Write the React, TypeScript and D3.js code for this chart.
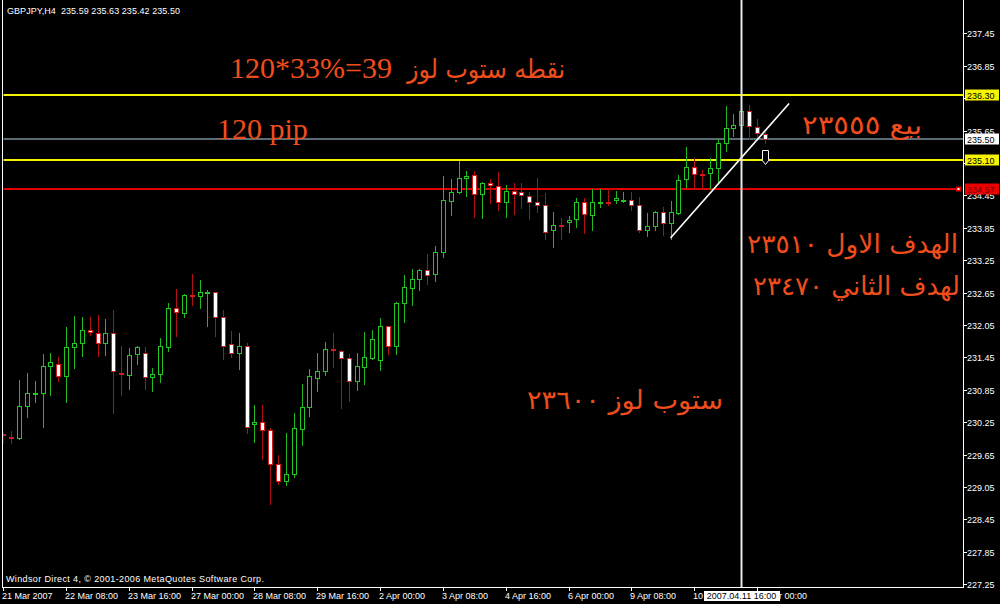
import React from 'react';
import * as d3 from 'd3';

// ---- data (GBPJPY H4) ----
const opens = [230.04,229.97,229.95,230.55,230.77,230.80,231.30,231.33,231.11,231.64,231.71,231.95,231.91,231.72,231.91,231.17,231.13,231.51,231.54,231.08,231.15,231.65,232.37,232.28,232.61,232.58,232.65,232.66,232.19,231.69,231.53,231.66,230.21,230.26,230.10,229.48,229.17,229.29,230.13,230.53,231.07,231.19,231.60,231.57,231.44,231.01,231.28,231.43,231.40,232.03,231.67,232.46,232.74,232.91,233.06,233.00,233.40,234.35,234.52,234.77,234.82,234.48,234.68,234.62,234.33,234.53,234.51,234.44,234.32,234.28,233.80,233.91,233.95,234.01,234.33,234.09,234.31,234.33,234.36,234.35,234.36,234.28,233.80,233.89,234.15,233.94,234.13,234.75,234.97,234.84,234.86,234.96,235.41,235.69,235.75,236.01,235.72,235.59];
const highs = [230.07,230.09,231.03,231.16,231.01,231.52,231.54,231.45,232.01,232.22,232.20,232.20,232.24,232.16,232.33,231.67,231.62,231.66,231.64,231.26,231.81,232.46,232.72,232.63,232.99,232.88,232.70,232.67,232.33,231.94,231.90,231.72,230.56,230.56,230.15,229.64,230.05,230.42,230.96,231.23,231.53,231.74,231.90,231.58,231.51,231.54,231.92,231.96,232.18,232.04,232.48,232.98,233.08,233.09,233.36,233.51,234.81,234.75,235.09,234.90,234.90,234.69,234.75,234.88,234.65,234.67,234.67,234.52,234.77,234.49,234.14,234.03,234.07,234.40,234.40,234.56,234.56,234.56,234.53,234.51,234.51,234.42,234.12,234.16,234.24,234.35,234.83,235.34,235.14,234.92,235.14,235.49,236.10,235.96,236.10,236.12,235.86,235.63];
const lows = [229.87,229.87,229.94,230.35,230.63,230.17,230.76,231.02,230.63,231.26,231.47,231.87,231.47,231.50,230.43,230.75,230.87,231.33,230.87,230.82,231.00,231.56,231.85,232.19,232.42,232.36,232.04,231.85,231.42,231.46,231.24,230.05,229.89,229.57,228.74,229.11,229.08,229.24,229.83,230.37,230.83,231.12,231.27,230.52,230.65,230.85,230.96,231.42,231.22,231.52,231.52,232.11,232.42,232.70,232.81,232.86,233.30,234.09,234.50,234.44,234.05,234.04,234.30,234.18,234.05,234.11,234.22,234.01,234.15,233.65,233.49,233.65,233.78,233.87,233.76,233.80,234.24,234.27,234.31,234.32,234.17,233.78,233.70,233.81,233.72,233.65,234.10,234.61,234.56,234.57,234.58,234.67,235.27,235.54,235.70,235.49,235.47,235.42];
const closes = [230.01,229.96,230.55,230.80,230.80,231.30,231.36,231.11,231.64,231.71,231.95,231.92,231.71,231.91,231.19,231.15,231.49,231.64,231.08,231.14,231.66,232.36,232.30,232.61,232.59,232.66,232.67,232.19,231.67,231.53,231.67,230.17,230.25,230.10,229.48,229.17,229.29,230.14,230.54,231.10,231.19,231.61,231.58,231.44,231.01,231.30,231.45,231.80,232.03,231.67,232.46,232.75,232.91,233.06,232.97,233.41,234.36,234.52,234.77,234.81,234.47,234.68,234.64,234.33,234.53,234.48,234.46,234.33,234.28,233.77,233.91,233.89,233.99,234.33,234.10,234.32,234.33,234.31,234.41,234.36,234.28,233.80,233.89,234.15,233.93,234.14,234.73,234.97,234.85,234.83,234.95,235.41,235.69,235.75,236.01,235.73,235.60,235.50];

const priceTicks = [237.45,236.85,236.25,235.65,235.05,234.45,233.85,233.25,232.65,232.05,231.45,230.85,230.25,229.65,229.05,228.45,227.85,227.25];
const hiddenTicks = [236.25, 235.05];
const timeLabelBars = [0,8,16,24,32,40,48,56,64,72,80,88,96];
const timeLabels = ['21 Mar 2007','22 Mar 08:00','23 Mar 16:00','27 Mar 00:00','28 Mar 08:00','29 Mar 16:00','2 Apr 00:00','3 Apr 08:00','4 Apr 16:00','6 Apr 00:00','9 Apr 08:00','10 Apr 16:00','12 Apr 00:00'];

const levelPrices = [236.30, 235.50, 235.10, 234.57];
const levelKinds = ['yellow', 'gray', 'yellow', 'red'];

const trendBars = [85, 100.1];
const trendPrices = [233.66, 236.15];
const cursorBar = 94;
const cursorLabel = '2007.04.11 16:00';
const sellArrowBar = 97;
const sellArrowPrice = 235.29;

const headerText = 'GBPJPY,H4  235.59 235.63 235.42 235.50';
const copyrightText = 'Windsor Direct 4, \u00A9 2001-2006 MetaQuotes Software Corp.';
const note1Num = '120*33%=39';
const note1Ar = 'نقطه ستوب لوز';
const note2 = '120 pip';
const noteSell = 'بيع ٢٣٥٥٥';
const noteTarget1 = 'الهدف الاول ٢٣٥١٠';
const noteTarget2 = 'لهدف الثاني ٢٣٤٧٠';
const noteStop = 'ستوب لوز ٢٣٦٠٠';

const W = 1000, H = 604;
const PL = 3, PR = 963, PB = 587;
const AX_FONT = 'Liberation Sans, Arial, sans-serif';
const NOTE_COLOR = '#f04d1c';
const AR_FONT = 'DejaVu Sans, sans-serif';

export default function App() {
  const x = d3.scaleLinear().domain([0, 97]).range([3.3, 764.75]);
  const y = d3.scaleLinear().domain([227.25, 237.45]).range([584.3, 33.3]);

  const candles = opens.map((o, i) => ({ i, o, h: highs[i], l: lows[i], c: closes[i] }));

  const levelStyle: Record<string, { line: string; w: number; bg: string; fg: string }> = {
    yellow: { line: '#f2f200', w: 2, bg: '#f5f500', fg: '#000' },
    gray: { line: '#5d6b74', w: 2, bg: '#ffffff', fg: '#000' },
    red: { line: '#e00000', w: 2, bg: '#ee0000', fg: '#7a0000' },
  };

  const cursorX = Math.round(x(cursorBar)) + 0.5;
  const ax = Math.round(x(sellArrowBar)) + 0.5;
  const ay = Math.round(y(sellArrowPrice)) + 0.5;

  return (
    <svg width={W} height={H} style={{ position: 'absolute', left: 0, top: 0, display: 'block' }}>
      <defs>
        <clipPath id="plot"><rect x={PL + 0.5} y={0} width={PR - PL - 0.5} height={PB} /></clipPath>
      </defs>
      <rect x={0} y={0} width={W} height={H} fill="#000" />

      {/* header */}
      <text x={7} y={14} fill="#fff" fontFamily={AX_FONT} fontSize={9} textLength={173} style={{ whiteSpace: 'pre' }}>{headerText}</text>

      {/* level lines */}
      <g clipPath="url(#plot)">
        {levelPrices.map((p, k) => {
          const s = levelStyle[levelKinds[k]];
          const yy = Math.round(y(p));
          return <line key={k} x1={PL} x2={levelKinds[k] === 'red' ? 957 : PR} y1={yy} y2={yy} stroke={s.line} strokeWidth={s.w} />;
        })}
      </g>
      {/* red level end marker */}
      {levelPrices.map((p, k) => levelKinds[k] === 'red' ? (
        <g key={'m' + k}>
          <rect x={956} y={Math.round(y(p)) - 2.5} width={5} height={5} fill="#e00000" />
          <rect x={957.5} y={Math.round(y(p)) - 1} width={2} height={2} fill="#fff" />
        </g>
      ) : null)}

      {/* candles */}
      <g clipPath="url(#plot)">
        {candles.map(d => {
          const cx = Math.round(x(d.i)) + 0.5;
          const bull = d.c >= d.o;
          const yo = Math.round(y(d.o)), yc = Math.round(y(d.c));
          const top = Math.min(yo, yc), bot = Math.max(yo, yc);
          const yh = Math.round(y(d.h)), yl = Math.round(y(d.l));
          return (
            <g key={d.i}>
              <line x1={cx} x2={cx} y1={yh} y2={yl + 1} stroke={bull ? '#1fb81f' : '#b01010'} strokeWidth={1} />
              <rect x={cx - 2} y={top + 0.5} width={4} height={Math.max(bot - top, 0)}
                fill={bull ? '#000' : '#ffffff'} stroke={bull ? '#22c822' : '#d41a1a'} strokeWidth={1} />
            </g>
          );
        })}
      </g>

      {/* trend line */}
      <line x1={x(trendBars[0])} y1={y(trendPrices[0])} x2={x(trendBars[1])} y2={y(trendPrices[1])} stroke="#fff" strokeWidth={1.6} />

      {/* sell arrow */}
      <path d={`M${ax - 3},${ay} L${ax + 3},${ay} L${ax + 3},${ay + 9} L${ax + 4},${ay + 9} L${ax},${ay + 14} L${ax - 4},${ay + 9} L${ax - 3},${ay + 9} Z`} fill="#000" stroke="#fff" strokeWidth={1} />

      {/* cursor vertical line */}
      <line x1={cursorX} x2={cursorX} y1={0} y2={PB} stroke="#e8e8e8" strokeWidth={2} />

      {/* frame */}
      <line x1={2.5} x2={2.5} y1={0} y2={PB + 0.5} stroke="#fff" strokeWidth={1} />
      <line x1={PR + 0.5} x2={PR + 0.5} y1={0} y2={PB + 0.5} stroke="#fff" strokeWidth={1} />
      <line x1={2} x2={PR + 1} y1={PB + 0.5} y2={PB + 0.5} stroke="#fff" strokeWidth={1} />

      {/* price axis */}
      {priceTicks.map(p => {
        const yy = Math.round(y(p)) + 0.5;
        return (
          <g key={p}>
            <line x1={PR + 1} x2={PR + 4} y1={yy} y2={yy} stroke="#fff" strokeWidth={1} />
            {hiddenTicks.includes(p) ? null : (
              <text x={967} y={yy + 3.5} fill="#fff" fontFamily={AX_FONT} fontSize={9}>{p.toFixed(2)}</text>
            )}
          </g>
        );
      })}
      {levelPrices.map((p, k) => {
        const s = levelStyle[levelKinds[k]];
        const yy = Math.round(y(p));
        return (
          <g key={'lb' + k}>
            <rect x={965} y={yy - 5.5} width={34} height={11} fill={s.bg} />
            <text x={967} y={yy + 3.5} fill={s.fg} fontFamily={AX_FONT} fontSize={9}>{p.toFixed(2)}</text>
          </g>
        );
      })}

      {/* time axis */}
      {timeLabelBars.map((b, k) => {
        const tx = Math.round(x(b)) + 0.5;
        return (
          <g key={'t' + k}>
            <line x1={tx} x2={tx} y1={PB} y2={PB + 4} stroke="#fff" strokeWidth={1} />
            <text x={tx - 1.5} y={599} fill="#fff" fontFamily={AX_FONT} fontSize={9}>{timeLabels[k]}</text>
          </g>
        );
      })}
      <rect x={cursorX - 37.5} y={591} width={76} height={10} fill="#fff" />
      <text x={cursorX} y={599} fill="#000" fontFamily={AX_FONT} fontSize={9} textAnchor="middle">{cursorLabel}</text>

      {/* copyright */}
      <text x={6} y={582} fill="#fff" fontFamily={AX_FONT} fontSize={9} textLength={258}>{copyrightText}</text>

      {/* annotations */}
      <text x={230} y={78} fill={NOTE_COLOR} fontFamily="Liberation Serif, serif" fontSize={30}>{note1Num}</text>
      <text x={407} y={78} fill={NOTE_COLOR} fontFamily={AR_FONT} fontSize={26} textLength={158} lengthAdjust="spacingAndGlyphs">{note1Ar}</text>
      <text x={217} y={139} fill={NOTE_COLOR} fontFamily="Liberation Serif, serif" fontSize={30}>{note2}</text>
      <text x={802} y={134} fill={NOTE_COLOR} fontFamily={AR_FONT} fontSize={26} textLength={120} lengthAdjust="spacingAndGlyphs">{noteSell}</text>
      <text x={747} y={253} fill={NOTE_COLOR} fontFamily={AR_FONT} fontSize={26} textLength={211} lengthAdjust="spacingAndGlyphs">{noteTarget1}</text>
      <text x={753} y={295} fill={NOTE_COLOR} fontFamily={AR_FONT} fontSize={26} textLength={207} lengthAdjust="spacingAndGlyphs">{noteTarget2}</text>
      <text x={527} y={409} fill={NOTE_COLOR} fontFamily={AR_FONT} fontSize={26} textLength={196} lengthAdjust="spacingAndGlyphs">{noteStop}</text>
    </svg>
  );
}
